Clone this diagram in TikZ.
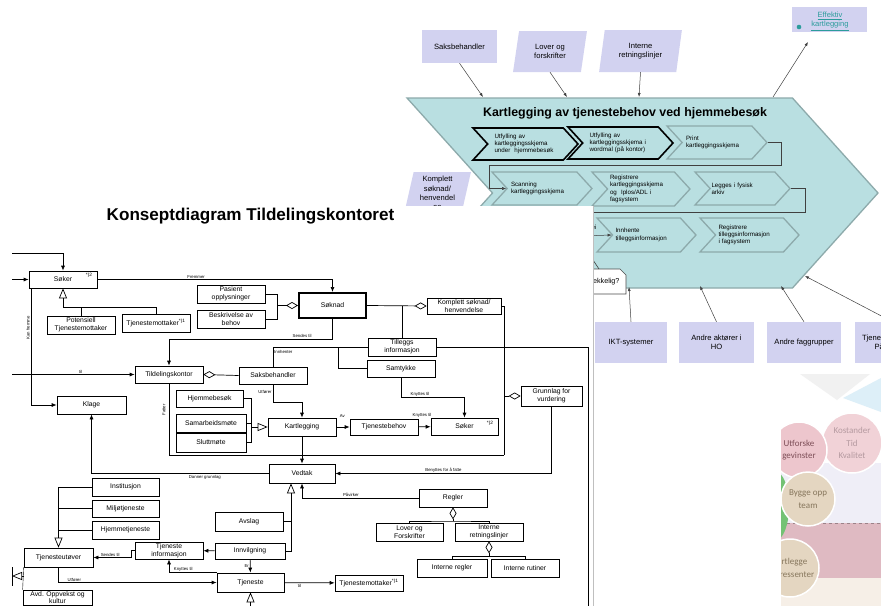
\documentclass[tikz,border=0pt]{standalone}
\usepackage{fontspec}
\setmainfont{Liberation Sans}
\newfontfamily\circfont{Carlito}
\usetikzlibrary{arrows.meta,shapes.symbols,shapes.geometric}

\definecolor{hexfill}{HTML}{B9DFE1}
\definecolor{hexline}{HTML}{8DAAAB}
\definecolor{lav}{HTML}{D2D2F0}
\definecolor{linkteal}{HTML}{2C9C9C}
\definecolor{fadegray}{HTML}{F1F1F1}
\definecolor{fadeblue}{HTML}{DDEFF8}
\definecolor{fadelav}{HTML}{EFEEF7}
\definecolor{fadepink}{HTML}{DFBAC2}
\definecolor{fadebeige}{HTML}{F6EFE7}
\definecolor{fadegreen}{HTML}{74C274}
\definecolor{circpink}{HTML}{EDC6CD}
\definecolor{circrose}{HTML}{F1D2D7}
\definecolor{circbeige}{HTML}{E4D6C1}
\definecolor{txtpink}{HTML}{7E4F58}
\definecolor{txtrose}{HTML}{B59AA0}
\definecolor{txtbeige}{HTML}{86765C}

\begin{document}
\begin{tikzpicture}[x=1pt, y=-1pt,
  chev/.style={signal, signal to=east, signal from=west, signal pointer angle=95,
    draw=hexline, line width=1.3pt, fill=hexfill, minimum width=100pt, minimum height=33pt,
    inner sep=0pt, align=left, text width=62pt, font=\fontsize{6.2}{7.3}\selectfont},
  chevb/.style={chev, draw=black, line width=1.6pt},
  lavbox/.style={rectangle, fill=lav, minimum width=75pt, minimum height=41pt, inner sep=1pt,
    align=center, font=\fontsize{7.6}{9.2}\selectfont},
  lavpar/.style={trapezium, trapezium left angle=78, trapezium right angle=102,
    trapezium stretches=true, fill=lav, minimum width=74pt, minimum height=41pt, inner sep=0pt,
    align=center, font=\fontsize{7.6}{9.2}\selectfont},
  arrT/.style={-{Latex[length=4pt,width=3pt]}, draw=black!75, line width=0.5pt},
  lineT/.style={draw=black!75, line width=0.6pt},
  box/.style={draw, rectangle, line width=0.7pt, minimum width=68pt, minimum height=18pt,
    inner sep=0pt, align=center, font=\fontsize{6.8}{7.6}\selectfont},
  arr/.style={-{Latex[length=5pt,width=4pt]}, line width=0.7pt},
  aggr/.style={-{Diamond[open,length=12pt,width=7pt]}, line width=0.7pt},
  gen/.style={-{Triangle[open,length=10pt,width=8pt]}, line width=0.7pt},
  lbl/.style={font=\fontsize{4.3}{5}\selectfont, inner sep=1pt},
  sup/.style={font=\fontsize{4.8}{5}\selectfont, inner sep=0pt},
  circ/.style={circle, draw=white, line width=1.5pt, align=center, inner sep=0pt,
    font=\circfont\fontsize{9}{12.5}\selectfont}
  ]
\clip (0,0) rectangle (881,606);
\fill[white] (0,0) rectangle (881,606);

% Kartlegging av tjenestebehov
\node[signal, signal to=east, signal from=west, signal pointer angle=96, fill=hexfill,
  draw=hexline, line width=1.3pt, minimum width=471pt, minimum height=190pt] (hex) at (642.5,193) {};
\node[font=\fontsize{12.4}{14}\selectfont\bfseries] (hextitle) at (625,113)
  {Kartlegging av tjenestebehov ved hjemmebesøk};

\node[chevb, minimum width=105pt, minimum height=32pt] (utfyll1) at (525.5,144)
  {Utfylling av\\kartleggingsskjema\\under~~hjemmebesøk};
\node[chevb, minimum width=105pt, minimum height=32pt] (utfyll2) at (620.5,143)
  {Utfylling av\\kartleggingsskjema i\\wordmal (på kontor)};
\node[chev] (print) at (717,142.5) {Print\\kartleggingsskjema};
\node[chev] (scanning) at (542,188.5) {Scanning\\kartleggingsskjema};
\node[chev, minimum width=98pt, minimum height=34pt] (reg1) at (641,189)
  {Registrere\\kartleggingsskjema\\og~~Iplos/ADL i\\fagsystem};
\node[chev, minimum width=95pt] (legges) at (742.5,188.5) {Legges i fysisk\\arkiv};
\node[chev, minimum width=99pt, minimum height=34pt] (innhente) at (646.5,235)
  {Innhente\\tilleggsinformasjon};
\node[chev, minimum width=99pt, minimum height=34pt] (reg2) at (749.5,235)
  {Registrere\\tilleggsinformasjon\\i fagsystem};

\coordinate (c1) at (489,165);
\coordinate (c2) at (580,212);
\coordinate (c3) at (580,236);
\draw[arrT] (print.east) -- ++(13,0) |- (c1) |- (scanning.west);
\draw[lineT] (legges.east) -- ++(14,0) |- (c2);
\draw[arrT] (c3) -- (innhente.west);
\node[font=\fontsize{6.2}{7}\selectfont, anchor=east] (nei) at (600,227) {Nei};

% innganger
\node[lavbox, minimum height=33pt] (saksbI) at (459.5,46.5) {Saksbehandler};
\node[lavpar] (loverI) at (550,51.5) {Lover og\\forskrifter};
\node[lavpar, minimum width=83pt, minimum height=42pt] (interneI) at (640.5,51) {Interne\\retningslinjer};
\node[lavpar, minimum width=67pt, minimum height=42pt] (komplettI) at (437.5,193)
  {Komplett\\søknad/\\henvendel\\se};
\node[rectangle, fill=lav, minimum width=75pt, minimum height=25pt] (effektiv) at (829.5,19.5) {};
\node[font=\fontsize{7.6}{9}\selectfont, text=linkteal, align=center] (effekttxt) at (830,21.5)
  {\underline{Effektiv}\\\underline{kartlegging}};
\fill[linkteal] (799,27) circle (2.3);

\coordinate (h1) at (483,97);
\coordinate (h2) at (567,97);
\coordinate (h3) at (639,97);
\coordinate (e1) at (773,97);
\coordinate (e2) at (808,42);
\draw[arrT] (saksbI.south) -- (h1);
\draw[arrT] (loverI.south) -- (h2);
\draw[arrT] (interneI.south) -- (h3);
\draw[arrT] (e1) -- (e2);

% ressurser
\node[lavbox, minimum width=72pt] (ikt) at (631,342.5) {IKT-systemer};
\node[lavbox] (aktorer) at (716.5,342.5) {Andre aktører i\\HO};
\node[lavbox, minimum width=74pt] (faggrupper) at (804,342.5) {Andre faggrupper};
\node[lavbox] (tjmottI) at (892.5,342.5) {Tjenestemottaker/\\Pårørende};

\coordinate (b1) at (629,287);
\coordinate (b2) at (700,286);
\coordinate (b3) at (781,286);
\coordinate (b4) at (805,276);
\draw[arrT] (ikt.north) -- (b1);
\draw[arrT] (aktorer.north) -- (b2);
\draw[arrT] (faggrupper.north) -- (b3);
\draw[arrT] (tjmottI.north) -- (b4);

% beslutning
\draw[fill=white, draw=black!70, line width=0.6pt] (540,269) -- (620,269) -- (626,275) -- (626,294) -- (540,294) -- cycle;
\node[font=\fontsize{7.2}{8}\selectfont, anchor=east] (tilstr) at (623,282) {Tilstrekkelig?};
\coordinate (d1) at (599,269);
\coordinate (d2) at (585,248);
\draw[lineT] (d1) -- (d2);

% Konseptdiagram
\fill[white] (0,206) rectangle (593,606);
\draw[black!25, line width=1.5pt] (593.5,206) -- (593.5,606);
\node[font=\fontsize{17.1}{19}\selectfont\bfseries] (title) at (250.5,216) {Konseptdiagram Tildelingskontoret};

\node[box, minimum height=17pt] (soker) at (63,279.5) {Søker};
\node[sup] (sokersup) at (89,275) {*)2};
\node[box] (potensiell) at (81,325) {Potensiell\\Tjenestemottaker};
\node[box] (tjm1) at (156,323) {Tjenestemottaker\textsuperscript{*)1}};
\node[box] (pasient) at (231,294) {Pasient\\opplysninger};
\node[box] (beskrivelse) at (231,319) {Beskrivelse av\\behov};
\node[box, line width=2pt, minimum width=67pt, minimum height=25pt] (soknad) at (332.5,305.5) {Søknad};
\node[box, minimum width=74pt, minimum height=16pt] (komplett) at (464,306) {Komplett søknad/\\henvendelse};
\node[box] (tillegg) at (402,347) {Tilleggs\\informasjon};
\node[box, minimum height=17pt] (samtykke) at (401,368.5) {Samtykke};
\node[box, minimum height=17pt] (tildeling) at (169,374.5) {Tildelingskontor};
\node[box, minimum height=17pt] (saksb) at (273,375.5) {Saksbehandler};
\node[box, minimum width=69pt] (klage) at (91.5,405) {Klage};
\node[box, minimum width=67pt, minimum height=17pt] (hjemmebesok) at (209.5,398.5) {Hjemmebesøk};
\node[box, minimum width=70pt] (samarbeid) at (211,423) {Samarbeidsmøte};
\node[box, minimum width=70pt, minimum height=19pt] (slutt) at (211,442.5) {Sluttmøte};
\node[box] (kartlegging) at (302,427) {Kartlegging};
\node[box, minimum height=16pt] (tjbehov) at (384,427) {Tjenestebehov};
\node[box, minimum width=67pt, minimum height=17pt] (soker2) at (464.5,426.5) {Søker};
\node[sup] (soker2sup) at (490,423) {*)2};
\node[box, minimum width=61pt, minimum height=20pt] (grunnlag) at (551.5,396) {Grunnlag for\\vurdering};
\node[box, minimum width=66pt, minimum height=19pt] (vedtak) at (302,473.5) {Vedtak};
\node[box] (regler) at (453,498) {Regler};
\node[box, minimum width=67pt] (lover) at (409.5,532) {Lover og\\Forskrifter};
\node[box] (interne) at (489,532) {Interne\\retningslinjer};
\node[box, minimum width=70pt] (iregler) at (452,568) {Interne regler};
\node[box] (irutiner) at (525,568) {Interne rutiner};
\node[box, minimum height=16pt] (tjm2) at (369,583) {Tjenestemottaker\textsuperscript{*)1}};
\node[box, minimum width=67pt] (institusjon) at (125.5,487) {Institusjon};
\node[box, minimum width=67pt, minimum height=17pt] (miljo) at (125.5,508.5) {Miljøtjeneste};
\node[box, minimum width=67pt] (hjemmetj) at (125.5,530) {Hjemmetjeneste};
\node[box, minimum width=69pt, minimum height=19pt] (utover) at (58.5,557.5) {Tjenesteutøver};
\node[box, minimum height=17pt] (tjinfo) at (169,550.5) {Tjeneste\\informasjon};
\node[box, minimum width=70pt, minimum height=16pt] (innvilg) at (250,551) {Innvilgning};
\node[box, minimum height=19pt] (avslag) at (249,521.5) {Avslag};
\node[box, minimum width=67pt, minimum height=19pt] (tjeneste) at (250.5,582.5) {Tjeneste};
\node[box, minimum width=69pt, minimum height=15pt] (avd) at (57.5,597.5) {Avd. Oppvekst og\\kultur};

\coordinate (s0) at (12,253);
\coordinate (s1) at (12,279.5);
\coordinate (t0) at (12,374.5);
\coordinate (g1) at (63,307);
\coordinate (a1) at (277,305.5);
\coordinate (j2) at (338,347);
\coordinate (r1) at (588,606);
\coordinate (j4) at (504,455);
\coordinate (g2) at (251,427);
\coordinate (g3) at (453,521);
\coordinate (g4) at (489,556);
\coordinate (g5) at (291,521.5);
\coordinate (g6) at (58.5,487);
\coordinate (g7) at (24,576);
\coordinate (g8) at (12,576);
\coordinate (g9) at (12,567);
\coordinate (g10) at (12,586);
\coordinate (g11) at (250.5,606);

\draw[arr] (s0) -| (soker.north);
\draw[arr] (s1) -- (soker.west);
\draw[arr] (soker.east) -| node[lbl, pos=0.21, above] {Fremmer} (soknad.north);
\draw[gen] (g1) -- (soker.south);
\draw (potensiell.north) |- (g1);
\draw (tjm1.north) |- (g1);
\draw[arr] ([xshift=3pt]soker.south west) |- (klage.west);
\node[lbl, rotate=90] at (28,328) {Kan fremme};

\draw (pasient.east) -| (a1);
\draw (beskrivelse.east) -| (a1);
\draw[aggr] (a1) -- (soknad.west);
\draw[arr] (soknad.south) -- ++(0,20) -| node[lbl, pos=0.093, above] {Sendes til} (tildeling.north);
\draw[aggr] (soknad.east) -- (komplett.west);
\draw (tillegg.north) -- (tillegg.north |- komplett.west);
\draw (tillegg.west) -| node[lbl, pos=0.62, right] {Innhenter} (saksb.north);
\draw (samtykke.west) -| (j2);
\draw (tillegg.east) -| (r1);

\draw[arr] (t0) -- node[lbl, pos=0.56, above] {til} (tildeling.west);
\draw[aggr] (saksb.west) -- (tildeling.east);
\draw[arr] (saksb.south) -- node[lbl, pos=0.4, left] {Utfører} ++(0,18) -| (kartlegging.north);

\draw (tildeling.south) |- (j4);
\draw (komplett.east) -| (j4);
\node[lbl, rotate=90] at (164,410) {Fatter};
\draw[arr] (kartlegging.south) -- (vedtak.north);

\draw (hjemmebesok.east) -| (g2);
\draw (samarbeid.east) -| (g2);
\draw (slutt.east) -| (g2);
\draw[gen] (g2) -- (kartlegging.west);
\draw[arr] (kartlegging) -- node[lbl, pos=0.45, above=8pt] {Av} (tjbehov);
\draw[arr] (tjbehov) -- node[lbl, pos=0.3, above=8pt] {Knyttes til} (soker2);
\draw[arr] (samtykke.south) -- ++(0,20) -| node[lbl, pos=0.15, above] {Knyttes til} (soker2.north);

\draw[aggr] (j4 |- grunnlag.west) -- (grunnlag.west);
\draw[arr] (grunnlag.south) |- node[lbl, pos=0.75, above] {Benyttes for å fatte} (vedtak.east);
\draw[arr] (vedtak.west) -| node[lbl, pos=0.18, below=1pt] {Danner grunnlag} (klage.south);
\draw[arr] (regler.west) -| node[lbl, pos=0.29, above] {Påvirker} (vedtak.south);

\draw (lover.north) |- (g3) -| (interne.north);
\draw[aggr] (g3) -- (regler.south);
\draw (iregler.north) |- (g4) -| (irutiner.north);
\draw[aggr] (g4) -- (interne.south);

\draw (innvilg.east) -| (g5);
\draw[gen] (avslag.east) -| (vedtak.south -| g5);
\draw[arr] (innvilg) -- (tjinfo);
\draw[arr] (innvilg) -- node[lbl, left] {Er} (tjeneste);
\draw[arr] (tjeneste.north west) -| node[lbl, pos=0.35, above] {Knyttes til} (tjinfo.south);
\draw[arr] (tjinfo.west) -- ++(-3,0) |- node[lbl, pos=0.78, above] {Sendes til} (utover.east);
\draw[arr] (tjeneste) -- node[lbl, pos=0.3, below] {til} (tjm2);

\draw (institusjon.west) -- (g6);
\draw (miljo.west) -- (miljo.west -| g6);
\draw (hjemmetj.west) -- (hjemmetj.west -| g6);
\draw[gen] (g6) -- (utover.north);
\draw[arr] (utover.south) |- node[lbl, pos=0.55, above] {Utfører} (tjeneste.west);
\draw (utover.south west) -- (avd.north west);
\draw[gen] (g7) -- (g8);
\draw (g9) -- (g10);
\draw[gen] (g11) -- (tjeneste.south);

% gevinstbilde
\begin{scope}
\clip (781,374) rectangle (881,606);
\fill[fadegray] (800,374) -- (870,374) -- (837,400) -- cycle;
\fill[fadeblue] (843,398) -- (881,378) -- (881,412) -- cycle;
\fill[fadelav] (781,463) rectangle (881,523);
\fill[fadepink] (781,523) rectangle (881,578);
\draw[fadepink!70!black, dashed, line width=0.4pt] (781,523) -- (881,523);
\fill[fadebeige] (781,578) rectangle (881,606);
\fill[fadegreen] (776,506) ellipse (13 and 34);
\node[circ, fill=circrose, minimum size=60pt, text=txtrose] (kostnad) at (852,443) {Kostander\\Tid\\Kvalitet};
\node[circ, fill=circpink, minimum size=56pt, text=txtpink] (utforske) at (799,450) {Utforske\\gevinster};
\node[circ, fill=circbeige, minimum size=54pt, text=txtbeige] (bygge) at (808,499) {Bygge opp\\team};
\node[circ, fill=circbeige, minimum size=58pt, text=txtbeige] (kartlegge) at (790,568) {Kartlegge\\interessenter};
\end{scope}
\end{tikzpicture}
\end{document}
